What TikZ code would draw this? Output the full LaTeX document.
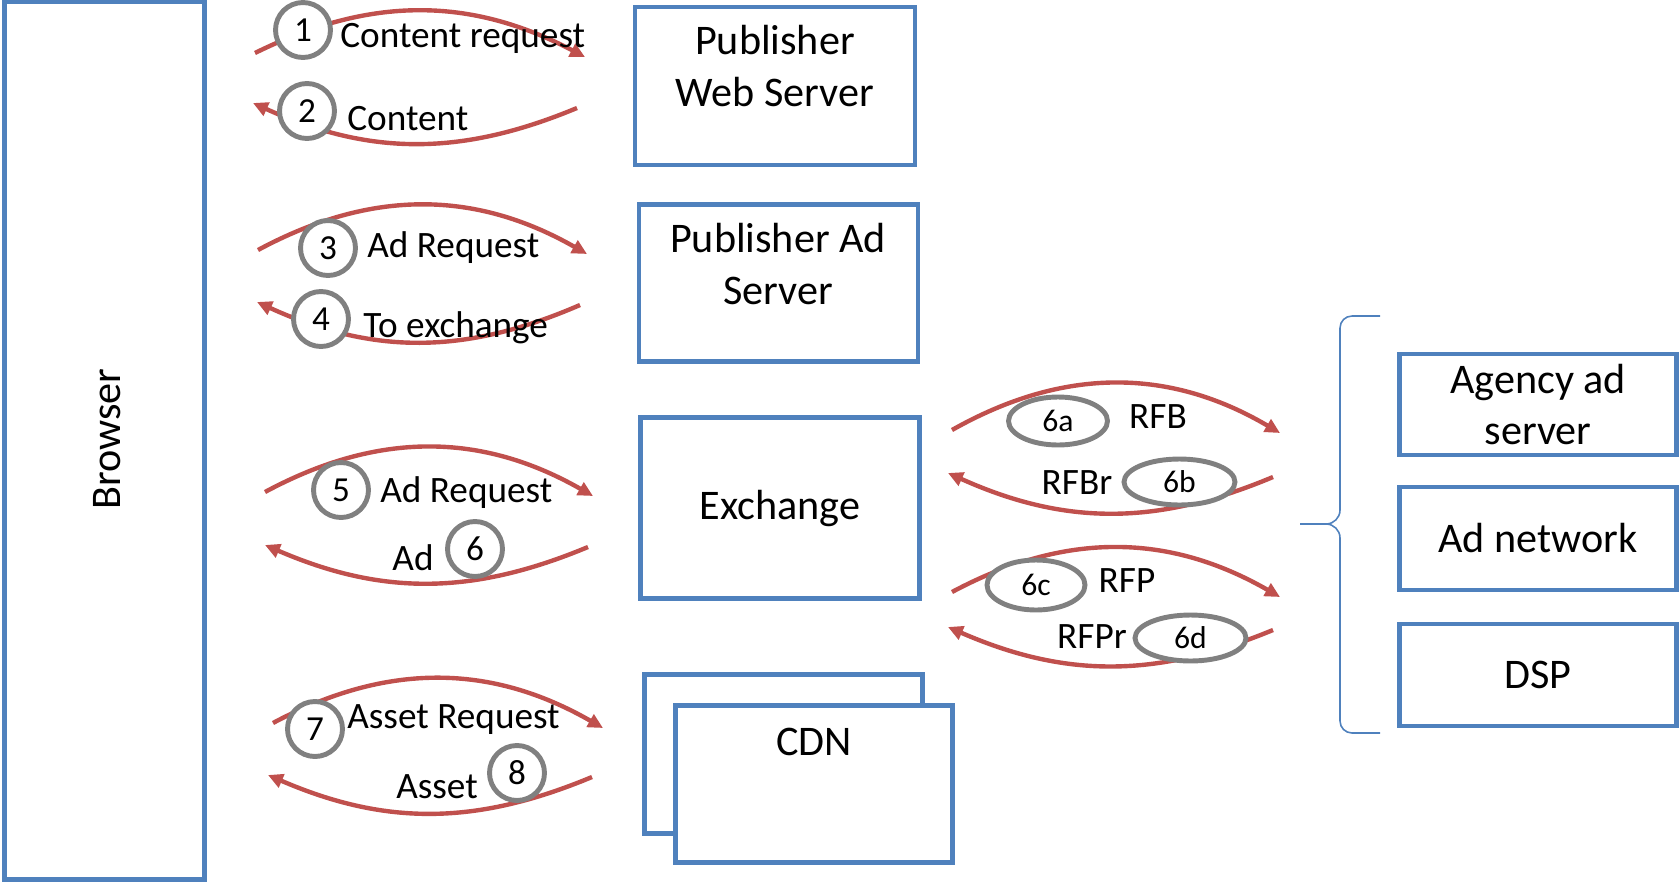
\documentclass[tikz,border=0pt]{standalone}
\usepackage{fontspec}
\setmainfont{Carlito}
\usetikzlibrary{arrows.meta,shapes.geometric}

\definecolor{boxblue}{RGB}{79,129,189}
\definecolor{flowred}{RGB}{192,80,77}
\definecolor{stepgray}{RGB}{128,128,128}

\tikzset{
    box/.style={draw=boxblue, line width=2.6pt, fill=white, inner sep=0pt, align=center,
        font=\fontsize{24}{29.5}\selectfont},
    boxtext/.style={inner sep=0pt, align=center, font=\fontsize{24}{29.5}\selectfont},
    flow/.style={draw=flowred, line width=2.5pt, -{Triangle[length=8.5pt,width=8pt]}},
    num/.style={draw=stepgray, fill=white, circle, line width=2.8pt, minimum size=1.1cm,
        inner sep=0pt, font=\fontsize{20}{24}\selectfont},
    subnum/.style={draw=stepgray, fill=white, ellipse, line width=2.8pt, inner sep=0pt,
        font=\fontsize{18}{22}\selectfont},
    msg/.style={inner sep=0pt, font=\fontsize{21.2}{25}\selectfont},
    bracket/.style={draw=boxblue, line width=0.9pt}
}

\begin{document}
\begin{tikzpicture}[x=0.02cm, y=-0.02cm]
    \useasboundingbox (0,0) rectangle (1680,883);

    % servers
    \node[box, minimum width=4cm, minimum height=17.57cm] (browser) at (104.5,440.5) {};
    \node[boxtext, rotate=90] (browserT) at (107,439) {Browser};
    \node[box, minimum width=5.6cm, minimum height=3.16cm] (pws) at (775,86) {};
    \node[boxtext] (pwsT) at (775,66) {Publisher\\Web Server};
    \node[box, minimum width=5.58cm, minimum height=3.14cm] (pas) at (778.5,283) {};
    \node[boxtext] (pasT) at (778,264) {Publisher Ad\\Server};
    \node[box, minimum width=5.58cm, minimum height=3.62cm] (exch) at (780,508) {Exchange};
    \node[box, minimum width=5.56cm, minimum height=3.18cm] (cdnback) at (783.5,754) {};
    \node[box, minimum width=5.55cm, minimum height=3.14cm] (cdn) at (814,784) {};
    \node[boxtext] (cdnT) at (814,742) {CDN};

    \node[box, minimum width=5.55cm, minimum height=2.02cm] (agency) at (1538,404.5) {Agency ad\\server};
    \node[box, minimum width=5.55cm, minimum height=2.06cm] (adnet) at (1538,538.5) {Ad network};
    \node[box, minimum width=5.55cm, minimum height=2.04cm] (dsp) at (1538,675) {DSP};

    % brace
    \draw[bracket] (1380,316) -- (1352,316) to[out=180,in=90] (1340,328) -- (1340,510)
        to[out=-90,in=0] (1326,524) -- (1300,524) -- (1326,524)
        to[out=0,in=90] (1340,538) -- (1340,721) to[out=-90,in=180] (1352,733) -- (1380,733);

    % flows
    \coordinate (f1a) at (255,53);   \coordinate (f1b) at (585,57);
    \coordinate (f2a) at (577,108);  \coordinate (f2b) at (253,103);
    \coordinate (f3a) at (258,250);  \coordinate (f3b) at (587,254);
    \coordinate (f4a) at (580,305);  \coordinate (f4b) at (257,302);
    \coordinate (f5a) at (265,492);  \coordinate (f5b) at (593,496);
    \coordinate (f6a) at (588,547);  \coordinate (f6b) at (265,545);
    \coordinate (f7a) at (273,723);  \coordinate (f7b) at (603,728);
    \coordinate (f8a) at (592,777);  \coordinate (f8b) at (268,775);
    \coordinate (rfba) at (952,430);   \coordinate (rfbb) at (1280,433);
    \coordinate (rfbra) at (1273,477); \coordinate (rfbrb) at (948,473);
    \coordinate (rfpa) at (952,592);   \coordinate (rfpb) at (1280,597);
    \coordinate (rfpra) at (1273,630); \coordinate (rfprb) at (948,627);

    \draw[flow] (f1a) to[bend left=27] (f1b);
    \draw[flow] (f2a) to[bend left=23.5] (f2b);
    \draw[flow] (f3a) to[bend left=29] (f3b);
    \draw[flow] (f4a) to[bend left=24] (f4b);
    \draw[flow] (f5a) to[bend left=29] (f5b);
    \draw[flow] (f6a) to[bend left=23] (f6b);
    \draw[flow] (f7a) to[bend left=29] (f7b);
    \draw[flow] (f8a) to[bend left=23] (f8b);
    \draw[flow] (rfba) to[bend left=30] (rfbb);
    \draw[flow] (rfbra) to[bend left=23.5] (rfbrb);
    \draw[flow] (rfpa) to[bend left=29] (rfpb);
    \draw[flow] (rfpra) to[bend left=23] (rfprb);

    % step numbers
    \node[num] (n1) at (303,30) {1};
    \node[num] (n2) at (307,111) {2};
    \node[num] (n3) at (328,248) {3};
    \node[num] (n4) at (321,319) {4};
    \node[num] (n5) at (341,490) {5};
    \node[num] (n6) at (475,549) {6};
    \node[num] (n7) at (315,729) {7};
    \node[num] (n8) at (517,773) {8};
    \node[subnum, minimum width=1.98cm, minimum height=0.96cm] (n6a) at (1058,421) {6a};
    \node[subnum, minimum width=2.22cm, minimum height=0.92cm] (n6b) at (1179.5,482) {6b};
    \node[subnum, minimum width=1.96cm, minimum height=1cm] (n6c) at (1036,585) {6c};
    \node[subnum, minimum width=2.22cm, minimum height=0.92cm] (n6d) at (1190.5,638) {6d};

    % messages
    \node[msg, anchor=base west] (m1) at (340,47) {Content request};
    \node[msg, anchor=base west] (m2) at (347,130) {Content};
    \node[msg, anchor=base west] (m3) at (367,257) {Ad Request};
    \node[msg, anchor=base west] (m4) at (363,337) {To exchange};
    \node[msg, anchor=base west] (m5) at (380,502) {Ad Request};
    \node[msg, anchor=base] (m6) at (413,570) {Ad};
    \node[msg, anchor=base west] (m7) at (347,728) {Asset Request};
    \node[msg, anchor=base] (m8) at (437,798) {Asset};
    \node[msg, anchor=base] (m6a) at (1158,428) {RFB};
    \node[msg, anchor=base] (m6b) at (1077,494) {RFBr};
    \node[msg, anchor=base] (m6c) at (1127,592) {RFP};
    \node[msg, anchor=base] (m6d) at (1092,648) {RFPr};
\end{tikzpicture}
\end{document}
